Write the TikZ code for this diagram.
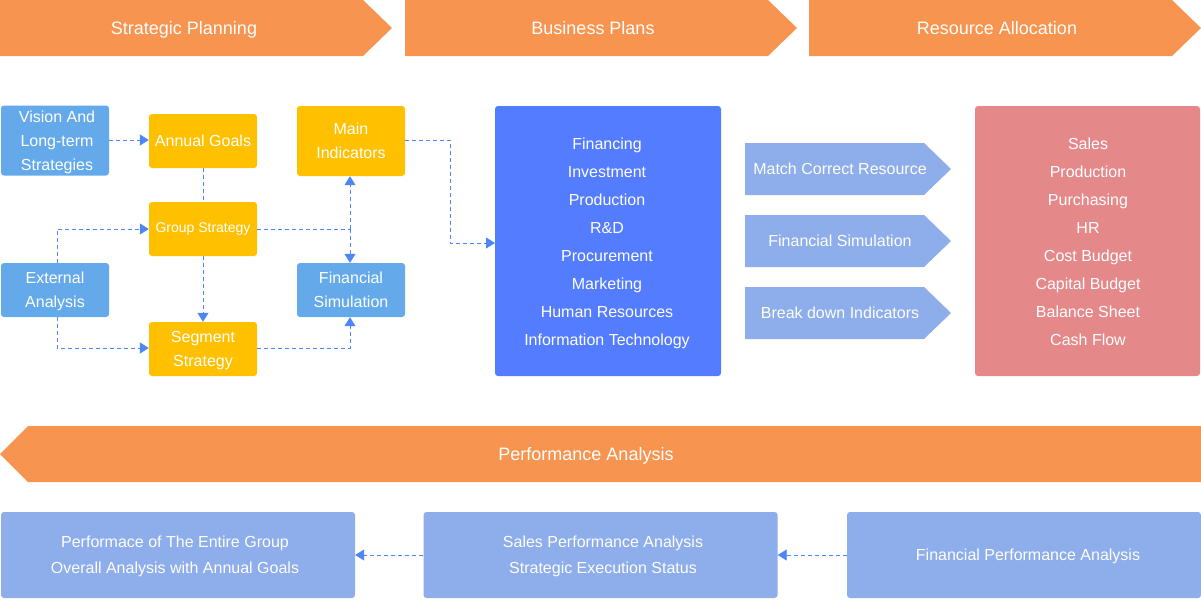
\documentclass[tikz,border=0pt]{standalone}
\usepackage{fontspec}
\setmainfont{Liberation Sans}
\usetikzlibrary{arrows.meta}
\definecolor{orng}{HTML}{F7944F}
\definecolor{yel}{HTML}{FFC000}
\definecolor{lblue}{HTML}{64AAEB}
\definecolor{bblue}{HTML}{537CFE}
\definecolor{pblue}{HTML}{8DADEB}
\definecolor{rbox}{HTML}{E5888A}
\definecolor{conn}{HTML}{4F86F7}
\begin{document}
\begin{tikzpicture}[x=1pt,y=-1pt,
  txt/.style={text=white, align=center, inner sep=0pt, font=\fontsize{16}{24}\selectfont},
  boxbase/.style={txt, rounded corners=3pt, minimum width=108pt},
  ybox/.style={boxbase, fill=yel, minimum height=54pt},
  lbbox/.style={boxbase, fill=lblue},
  bigbox/.style={txt, rounded corners=3pt, font=\fontsize{16}{28}\selectfont},
  botbox/.style={txt, rounded corners=3pt, fill=pblue, minimum width=354pt, minimum height=86pt, font=\fontsize{16}{26}\selectfont},
  banner/.style={txt, font=\fontsize{18}{20}\selectfont},
  link/.style={draw=conn, dash pattern=on 4pt off 3pt, line width=0.8pt},
  arr/.style={link, -{Triangle[length=9pt,width=11pt]}}
]
\useasboundingbox (0,0) rectangle (1201,600);
% top chevrons
\fill[orng] (0,0) -- (363,0) -- (392,28) -- (363,56) -- (0,56) -- cycle;
\fill[orng] (405,0) -- (768,0) -- (797,28) -- (768,56) -- (405,56) -- cycle;
\fill[orng] (809,0) -- (1172,0) -- (1201,28) -- (1172,56) -- (809,56) -- cycle;
\node[banner] (sp) at (184,29.5) {Strategic Planning};
\node[banner] (bp) at (593,28) {Business Plans};
\node[banner] (ra) at (997,28) {Resource Allocation};
% left area boxes
\node[lbbox, minimum height=70pt] (vision) at (55,140.5) {};
\node[txt] (visiont) at (57,142.5) {Vision And\\Long-term\\Strategies};
\node[ybox] (goals) at (203,141) {Annual Goals};
\node[lbbox, fill=yel, minimum height=70pt] (main) at (351,141) {Main\\Indicators};
\node[ybox, font=\fontsize{14}{20}\selectfont] (group) at (203,229) {Group Strategy};
\node[lbbox, minimum height=54pt] (ext) at (55,290) {};
\node[txt] (extt) at (55,291) {External\\Analysis};
\node[lbbox, minimum height=54pt] (fin) at (351,290) {Financial\\Simulation};
\node[ybox] (seg) at (203,349) {};
\node[txt] (segt) at (203,351) {Segment\\Strategy};
% connectors
\draw[arr] (vision.east |- 0,140) -- (goals.west |- 0,140);
\draw[link] (goals.south) -- (group.north);
\draw[arr] (group.south) -- (seg.north);
\coordinate (c1) at (57,229);
\draw[arr] (ext.north -| c1) -- (c1) -- (group.west);
\coordinate (c2) at (57,348);
\draw[arr] (ext.south -| c2) -- (c2) -- (seg.west |- c2);
\coordinate (c3) at (350,229);
\draw[link] (group.east) -- (c3);
\draw[arr] (c3) -- (main.south -| c3);
\draw[arr] (c3) -- (fin.north -| c3);
\coordinate (c4) at (350,348);
\draw[arr] (seg.east |- c4) -- (c4) -- (fin.south -| c4);
% big blue box
\fill[bblue, rounded corners=3pt] (495,106) rectangle (721,376);
\node[bigbox] (plans) at (607,243) {Financing\\Investment\\Production\\R\&D\\Procurement\\Marketing\\Human Resources\\Information Technology};
\coordinate (bigin) at (495,243);
\coordinate (c5) at (450,140);
\coordinate (c6) at (450,243);
\draw[arr] (main.east |- c5) -- (c5) -- (c6) -- (bigin);
% pentagons
\foreach \y/\n in {143/p1,215/p2,287/p3}{
  \fill[pblue] (745,\y) -- (924,\y) -- (951,\y+26) -- (924,\y+52) -- (745,\y+52) -- cycle;
}
\node[txt] (m1) at (840,169) {Match Correct Resource};
\node[txt] (m2) at (840,241) {Financial Simulation};
\node[txt] (m3) at (840,313) {Break down Indicators};
% red box
\fill[rbox, rounded corners=3pt] (975,106) rectangle (1200,376);
\node[bigbox] (res) at (1088,242) {Sales\\Production\\Purchasing\\HR\\Cost Budget\\Capital Budget\\Balance Sheet\\Cash Flow};
% performance banner
\fill[orng] (0,454) -- (28,426) -- (1201,426) -- (1201,482) -- (28,482) -- cycle;
\node[banner] (pa) at (586,456) {Performance Analysis};
% bottom boxes
\node[botbox] (b1) at (178,555) {};
\node[txt, font=\fontsize{16}{26}\selectfont] (b1t) at (175,556.5) {Performace of The Entire Group\\Overall Analysis with Annual Goals};
\node[botbox] (b2) at (600.5,555) {};
\node[txt, font=\fontsize{16}{26}\selectfont] (b2t) at (603,556.5) {Sales Performance Analysis\\Strategic Execution Status};
\node[botbox] (b3) at (1024,555) {};
\node[txt] (b3t) at (1028,556) {Financial Performance Analysis};
\draw[arr] (b2.west) -- (b1.east);
\draw[arr] (b3.west) -- (b2.east);
\end{tikzpicture}
\end{document}
